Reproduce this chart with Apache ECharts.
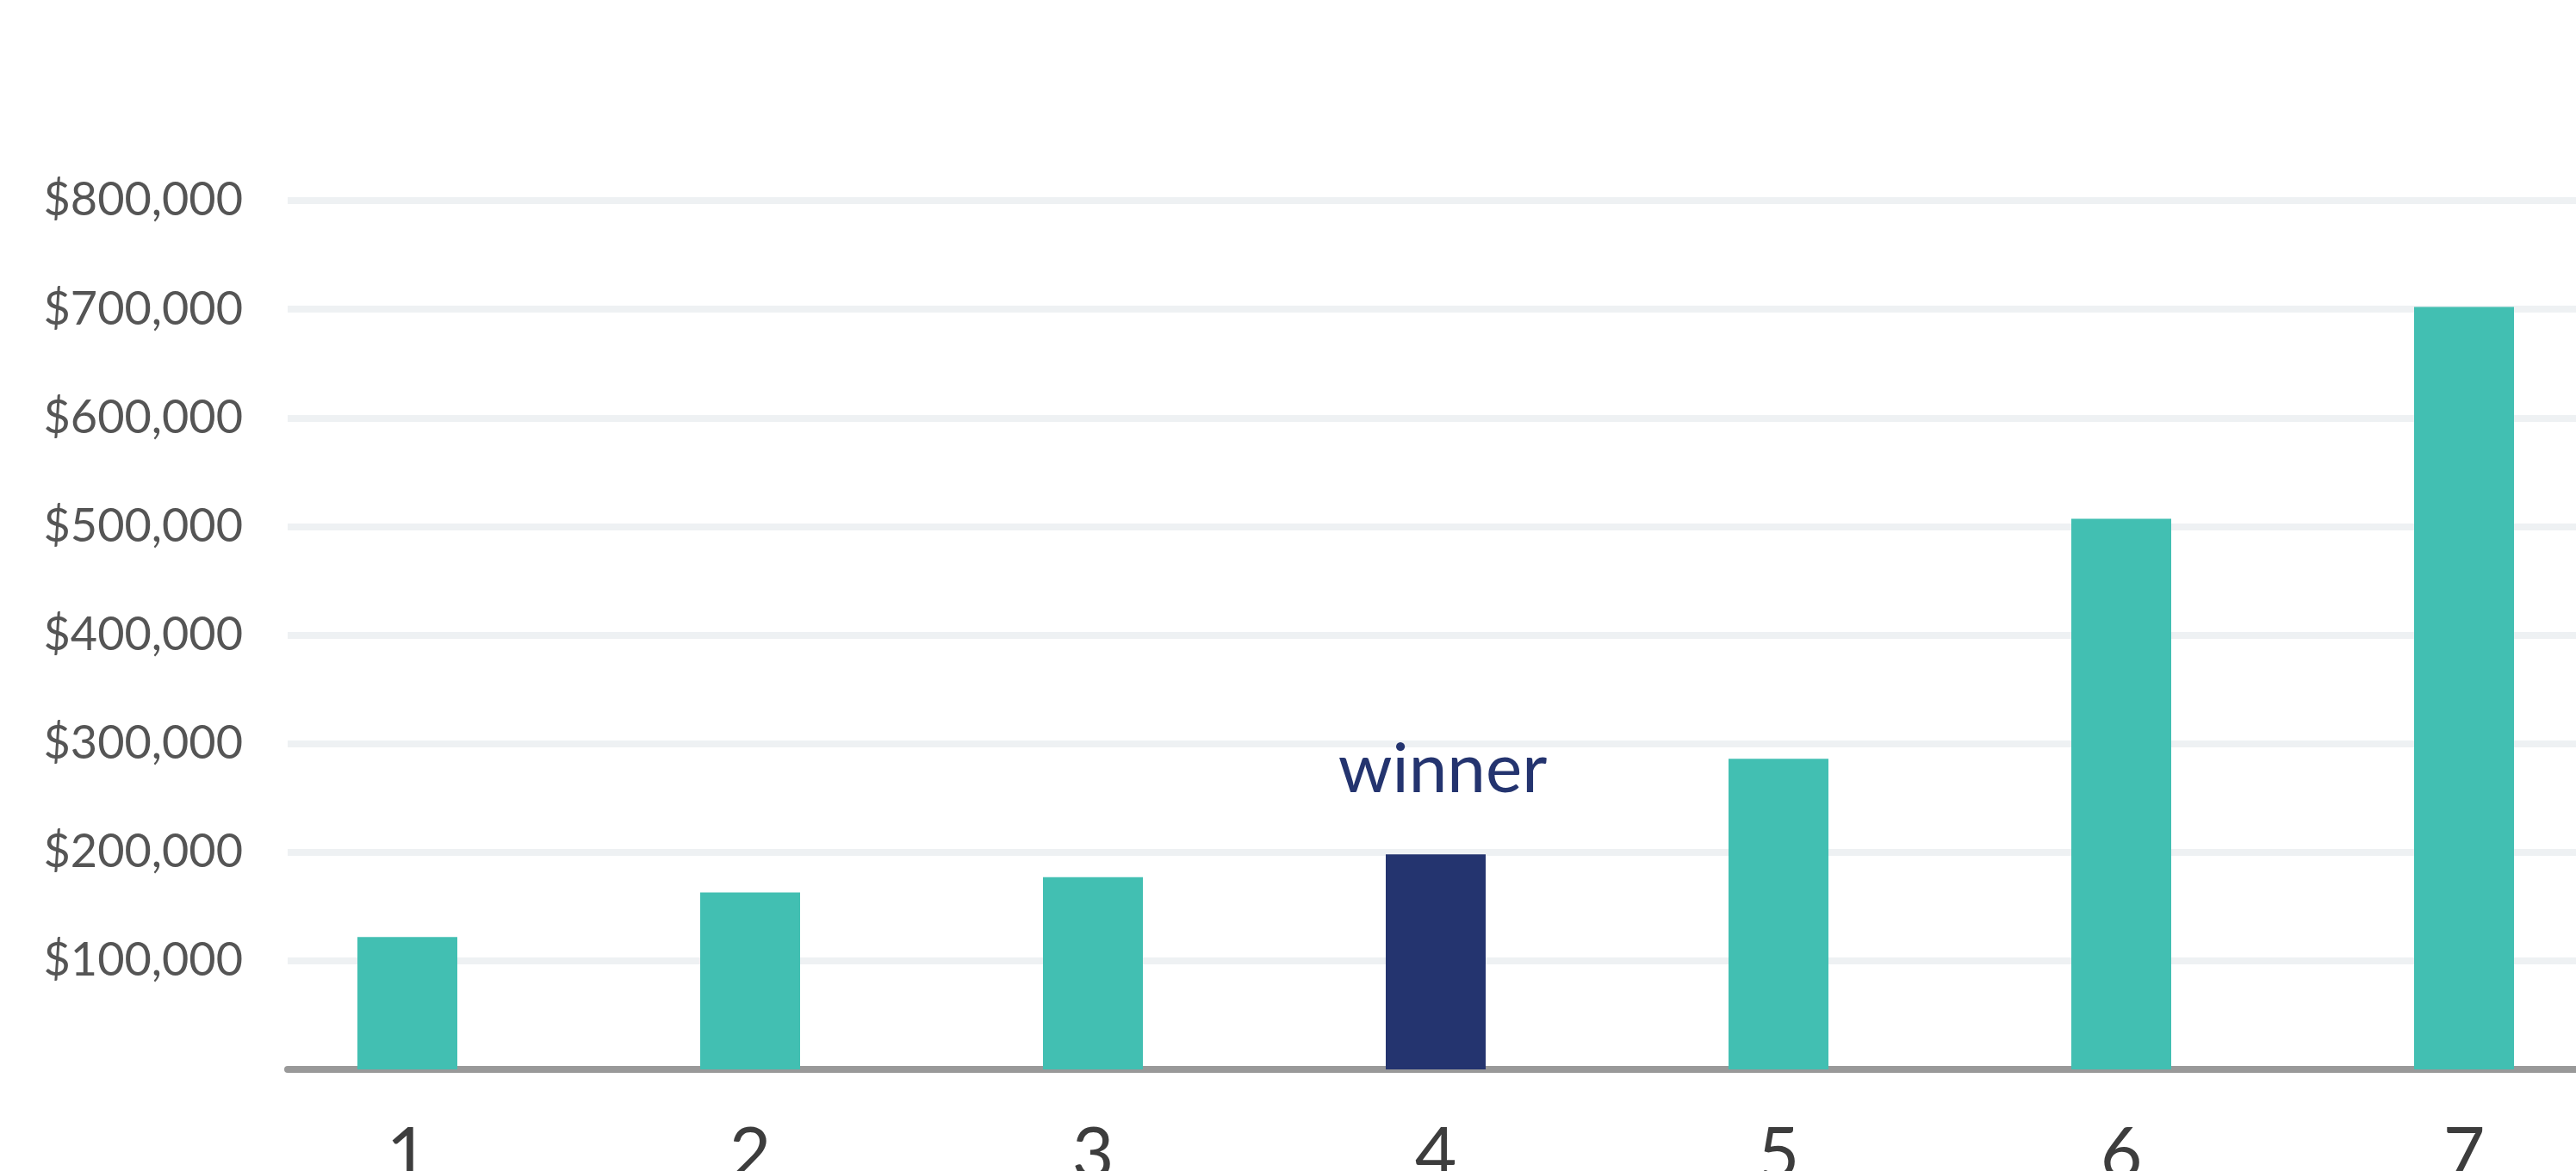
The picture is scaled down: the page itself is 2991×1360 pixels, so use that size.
<!DOCTYPE html>
<html>
<head>
<meta charset="utf-8">
<script src="https://cdn.jsdelivr.net/npm/echarts@6/dist/echarts.min.js"></script>
<style>
html,body{margin:0;padding:0;background:#fff;overflow:hidden;width:2991px;height:1360px;}
#c{width:3060px;height:1360px;}
</style>
</head>
<body>
<div id="c"></div>
<script>
const categories = ['1','2','3','4','5','6','7'];
const values = [122000, 163000, 177000, 198000, 286000, 507000, 702000];
const winnerIndex = 3;
const winnerLabel = 'winner';
const yTicks = [0, 100000, 200000, 300000, 400000, 500000, 600000, 700000, 800000];

const TEAL = '#42bfb2';
const NAVY = '#24346f';

const chart = echarts.init(document.getElementById('c'), null, {renderer:'canvas'});
const barData = values.map((v, i) => {
  if (i === winnerIndex) {
    return {
      value: v,
      itemStyle: {color: NAVY},
      label: {show: true, position: 'top', distance: 58, offset: [8, 0], formatter: winnerLabel,
              color: NAVY, fontSize: 80, fontFamily: 'Lato'}
    };
  }
  return {value: v, itemStyle: {color: TEAL}};
});

chart.setOption({
  animation: false,
  backgroundColor: '#ffffff',
  grid: [
    {left: 274, right: 0, top: 233, bottom: 118, containLabel: false, outerBoundsMode: 'none'},
    {left: 334, right: 0, top: 233, bottom: 118, containLabel: false, outerBoundsMode: 'none'}
  ],
  xAxis: [
    {gridIndex: 0, type: 'category', data: categories, boundaryGap: true,
     axisLine: {show: false}, axisTick: {show: false},
     axisLabel: {color: '#3d3d3d', fontSize: 84, fontFamily: 'Lato', margin: 58}},
    {gridIndex: 1, type: 'category', data: categories, boundaryGap: true,
     axisLine: {show: true, lineStyle: {color: '#999999', width: 8}},
     axisTick: {show: false}, axisLabel: {show: false}}
  ],
  yAxis: [
    {gridIndex: 0, type: 'value', min: yTicks[0], max: yTicks[yTicks.length-1], interval: yTicks[1]-yTicks[0],
     axisLabel: {show: false}, splitLine: {show: false}, axisLine: {show: false}, axisTick: {show: false}},
    {gridIndex: 1, type: 'value', min: yTicks[0], max: yTicks[yTicks.length-1], interval: yTicks[1]-yTicks[0],
     axisLine: {show: false}, axisTick: {show: false},
     splitLine: {show: true, lineStyle: {color: '#eef1f3', width: 8}},
     axisLabel: {showMinLabel: false, color: '#555555', fontSize: 54, fontFamily: 'Lato', margin: 52,
       formatter: v => '$' + v.toLocaleString('en-US')}}
  ],
  series: [
    {type: 'bar', xAxisIndex: 0, yAxisIndex: 0, data: barData, barWidth: 116, z: 3}
  ]
});
</script>
</body>
</html>
